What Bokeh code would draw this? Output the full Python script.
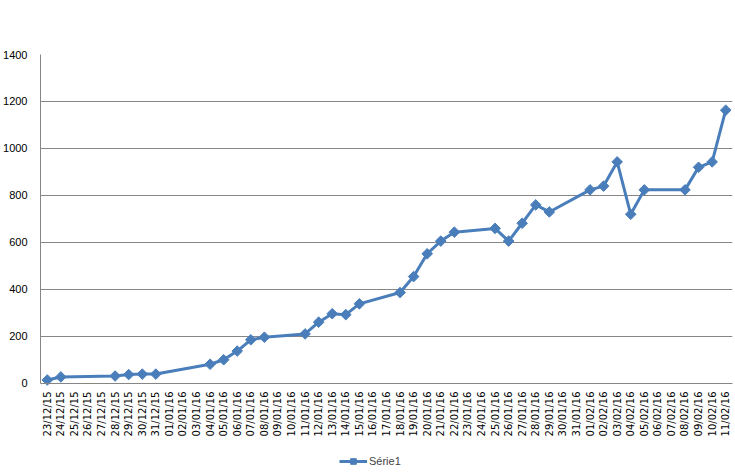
import math
import pandas as pd
from bokeh.plotting import figure
from bokeh.models import (Range1d, DaysTicker, DatetimeTickFormatter, Legend, LegendItem,
                          FixedTicker, ColumnDataSource)
from bokeh.embed import file_html
from bokeh.resources import INLINE

# ---- data ----
dates = ["23/12/15", "24/12/15", "28/12/15", "29/12/15", "30/12/15", "31/12/15",
         "04/01/16", "05/01/16", "06/01/16", "07/01/16", "08/01/16", "11/01/16",
         "12/01/16", "13/01/16", "14/01/16", "15/01/16", "18/01/16", "19/01/16",
         "20/01/16", "21/01/16", "22/01/16", "25/01/16", "26/01/16", "27/01/16",
         "28/01/16", "29/01/16", "01/02/16", "02/02/16", "03/02/16", "04/02/16",
         "05/02/16", "08/02/16", "09/02/16", "10/02/16", "11/02/16"]
values = [15, 28, 32, 38, 40, 40,
          82, 101, 138, 186, 197, 211,
          261, 297, 293, 339, 387, 455,
          552, 606, 644, 660, 606, 682,
          760, 730, 824, 840, 943, 720,
          824, 824, 920, 943, 1163]
y_ticks = [0, 200, 400, 600, 800, 1000, 1200, 1400]
series_name = "Série1"

x = pd.to_datetime(dates, format="%d/%m/%y")
src = ColumnDataSource(dict(x=x, y=values))

half_day = pd.Timedelta(hours=12)
# frame spans to the bottom edge; the part below y=0 holds the date labels and legend
p = figure(width=735, height=475, x_axis_type="datetime",
           output_backend="svg", toolbar_location=None,
           x_range=Range1d(x[0] - half_day, x[-1] + half_day),
           y_range=Range1d(-391.5, 1400),
           min_border_left=37, min_border_right=3, min_border_top=54, min_border_bottom=0)
p.outline_line_color = None
p.background_fill_color = "white"
p.border_fill_color = "white"

color = "#4A7EBB"
ln = p.line("x", "y", source=src, line_color=color, line_width=3)
mk = p.scatter("x", "y", source=src, marker="square", angle=math.pi / 4, size=7.5,
               fill_color=color, line_color=color)

# y axis
p.yaxis.ticker = FixedTicker(ticks=y_ticks)
p.yaxis.bounds = (0, 1400)
p.yaxis.major_tick_out = 0
p.yaxis.major_tick_in = 0
p.yaxis.minor_tick_line_color = None
p.yaxis.axis_line_color = "#868686"
p.yaxis.major_label_standoff = 13
p.yaxis.major_label_text_font = "Liberation Sans"
p.yaxis.major_label_text_font_size = "11px"
p.yaxis.major_label_text_color = "#000000"
p.ygrid.grid_line_color = "#868686"
p.ygrid.grid_line_width = 1

# x axis, pinned at y = 0
p.xaxis.fixed_location = 0
p.xaxis.ticker = DaysTicker(days=list(range(1, 32)))
p.xaxis.formatter = DatetimeTickFormatter(days="%d/%m/%y", months="%d/%m/%y",
                                          years="%d/%m/%y", context=None)
p.xaxis.major_label_orientation = math.pi / 2
p.xaxis.major_tick_out = 0
p.xaxis.major_tick_in = 0
p.xaxis.minor_tick_line_color = None
p.xaxis.axis_line_color = "#868686"
p.xaxis.major_label_standoff = 8
p.xaxis.major_label_text_font = "DejaVu Sans"
p.xaxis.major_label_text_font_size = "10px"
p.xaxis.major_label_text_color = "#000000"
p.xgrid.grid_line_color = None

legend = Legend(items=[LegendItem(label=series_name, renderers=[ln, mk])],
                orientation="horizontal", location=(299, 7),
                label_text_font="Liberation Sans", label_text_font_size="11px",
                border_line_color=None, background_fill_alpha=0,
                glyph_width=28, glyph_height=14, label_height=14,
                padding=0, margin=0, spacing=0, label_standoff=2)
p.add_layout(legend, "center")

open("out.html", "w").write(file_html(p, INLINE))
